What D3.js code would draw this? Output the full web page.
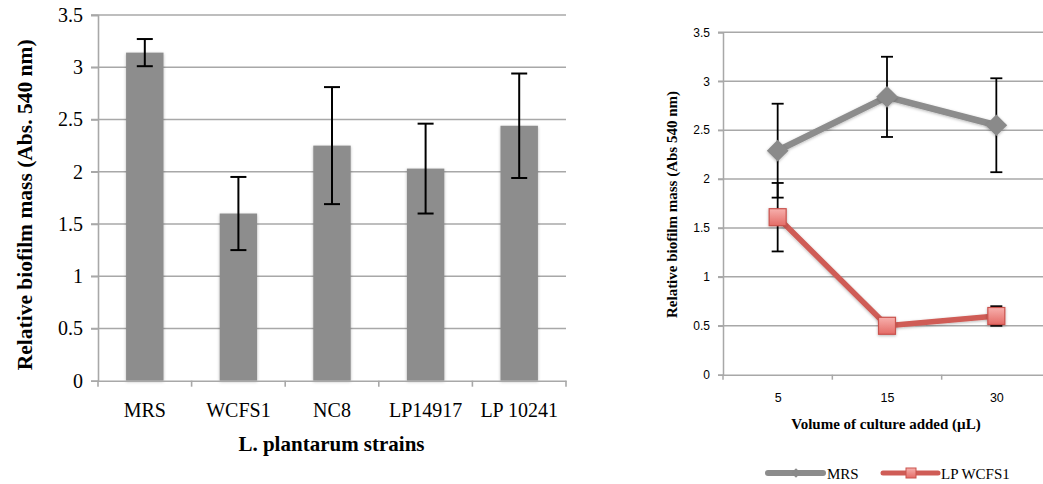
<!DOCTYPE html>
<html>
<head>
<meta charset="utf-8">
<script src="https://cdn.jsdelivr.net/npm/d3@7"></script>
<style>
  html, body { margin: 0; padding: 0; background: #fff; }
  svg { display: block; }
</style>
</head>
<body>
<svg id="chart" width="1043" height="484"></svg>
<script>
// Biofilm mass by strain (bar chart)
const strains = ["MRS", "WCFS1", "NC8", "LP14917", "LP 10241"];
const strainMeans = [3.14, 1.60, 2.25, 2.03, 2.44];
const strainErrors = [0.13, 0.35, 0.56, 0.43, 0.50];

// Biofilm mass by culture volume (line chart)
const volumes = ["5", "15", "30"];
const mrsMeans = [2.29, 2.84, 2.55];
const mrsErrors = [0.48, 0.41, 0.48];
const wcfsMeans = [1.61, 0.50, 0.60];
const wcfsErrors = [0.35, 0.02, 0.10];
const seriesNames = ["MRS", "LP WCFS1"];

const yTicks = [0, 0.5, 1, 1.5, 2, 2.5, 3, 3.5];
const yTickLabels = ["0", "0.5", "1", "1.5", "2", "2.5", "3", "3.5"];

const svg = d3.select("#chart");
const serif = "'Liberation Serif', 'Times New Roman', serif";
const sans = "'Liberation Sans', Arial, sans-serif";
const gridColor = "#a8a8a8";

const defs = svg.append("defs");
defs.append("filter").attr("id", "soft").attr("x", "-30%").attr("y", "-30%")
  .attr("width", "160%").attr("height", "160%")
  .append("feDropShadow").attr("dx", 0).attr("dy", 1).attr("stdDeviation", 1.6)
  .attr("flood-color", "#000").attr("flood-opacity", 0.28);
const grad = defs.append("linearGradient").attr("id", "sqFill")
  .attr("x1", 0).attr("y1", 0).attr("x2", 0).attr("y2", 1);
grad.append("stop").attr("offset", "0%").attr("stop-color", "#f7b0ad");
grad.append("stop").attr("offset", "100%").attr("stop-color", "#e46b66");

// ---------- Left panel: bars ----------
{
  const L = { left: 98, right: 566, top: 15, bottom: 380.7 };
  const x = d3.scaleBand().domain(strains).range([L.left, L.right]).paddingInner(0.6).paddingOuter(0.3);
  const xb = d3.scaleBand().domain(strains).range([L.left, L.right]);
  const y = d3.scaleLinear().domain([0, 3.5]).range([L.bottom, L.top]);
  const g = svg.append("g");

  // horizontal gridlines
  g.append("g").selectAll("line").data(yTicks.filter(d => d > 0)).join("line")
    .attr("x1", L.left - 7).attr("x2", L.right)
    .attr("y1", d => y(d)).attr("y2", d => y(d))
    .attr("stroke", gridColor).attr("stroke-width", 1.6);

  // y axis
  const yAxis = d3.axisLeft(y).tickValues(yTicks).tickSize(7).tickPadding(8)
    .tickFormat((d, i) => yTickLabels[i]);
  const ya = g.append("g").attr("transform", `translate(${L.left},0)`).call(yAxis);
  ya.select(".domain").attr("stroke", gridColor).attr("stroke-width", 1.6);
  ya.selectAll(".tick line").attr("stroke", gridColor).attr("stroke-width", 1.6);
  ya.selectAll(".tick text").attr("font-family", serif).attr("font-size", 20).attr("fill", "#000");

  // bars
  g.append("g").selectAll("rect").data(strains).join("rect")
    .attr("x", d => x(d)).attr("width", x.bandwidth())
    .attr("y", (d, i) => y(strainMeans[i]))
    .attr("height", (d, i) => y(0) - y(strainMeans[i]))
    .attr("fill", "#8d8d8d").attr("filter", "url(#soft)");

  // x axis
  const xAxis = d3.axisBottom(xb).tickSize(0).tickPadding(22);
  const xa = g.append("g").attr("transform", `translate(0,${L.bottom})`).call(xAxis);
  xa.select(".domain").attr("stroke", gridColor).attr("stroke-width", 1.6);
  xa.selectAll(".tick text").attr("font-family", serif).attr("font-size", 20).attr("fill", "#000");
  // category boundary tick marks
  g.append("g").selectAll("line").data(d3.range(strains.length + 1)).join("line")
    .attr("x1", i => L.left + i * xb.step()).attr("x2", i => L.left + i * xb.step())
    .attr("y1", L.bottom).attr("y2", L.bottom + 6)
    .attr("stroke", gridColor).attr("stroke-width", 1.6);

  // error bars
  const eb = g.append("g").attr("stroke", "#000").attr("stroke-width", 2);
  strains.forEach((s, i) => {
    const cx = x(s) + x.bandwidth() / 2;
    const hi = y(strainMeans[i] + strainErrors[i]);
    const lo = y(strainMeans[i] - strainErrors[i]);
    eb.append("line").attr("x1", cx).attr("x2", cx).attr("y1", hi).attr("y2", lo);
    eb.append("line").attr("x1", cx - 8).attr("x2", cx + 8).attr("y1", hi).attr("y2", hi);
    eb.append("line").attr("x1", cx - 8).attr("x2", cx + 8).attr("y1", lo).attr("y2", lo);
  });

  // titles
  g.append("text").attr("x", (L.left + L.right) / 2 - 0.5).attr("y", 451)
    .attr("text-anchor", "middle").attr("font-family", serif).attr("font-weight", "bold")
    .attr("font-size", 21).text("L. plantarum strains");
  g.append("text").attr("transform", `translate(32,${(L.top + L.bottom) / 2 + 7}) rotate(-90)`)
    .attr("text-anchor", "middle").attr("font-family", serif).attr("font-weight", "bold")
    .attr("font-size", 21.5).text("Relative biofilm mass (Abs. 540 nm)");
}

// ---------- Right panel: lines ----------
{
  const R = { left: 723, right: 1051, top: 32.3, bottom: 374.7 };
  const x = d3.scalePoint().domain(volumes).range([R.left, R.right]).padding(0.5);
  const step = (R.right - R.left) / volumes.length;
  const y = d3.scaleLinear().domain([0, 3.5]).range([R.bottom, R.top]);
  const g = svg.append("g");

  g.append("g").selectAll("line").data(yTicks.filter(d => d > 0)).join("line")
    .attr("x1", R.left - 5).attr("x2", R.right)
    .attr("y1", d => y(d)).attr("y2", d => y(d))
    .attr("stroke", gridColor).attr("stroke-width", 1.5);

  const yAxis = d3.axisLeft(y).tickValues(yTicks).tickSize(5).tickPadding(8)
    .tickFormat((d, i) => yTickLabels[i]);
  const ya = g.append("g").attr("transform", `translate(${R.left},0)`).call(yAxis);
  ya.select(".domain").attr("stroke", gridColor).attr("stroke-width", 1.5);
  ya.selectAll(".tick line").attr("stroke", gridColor).attr("stroke-width", 1.5);
  ya.selectAll(".tick text").attr("font-family", sans).attr("font-size", 12).attr("fill", "#000");

  const xAxis = d3.axisBottom(x).tickSize(0).tickPadding(18);
  const xa = g.append("g").attr("transform", `translate(0,${R.bottom})`).call(xAxis);
  xa.select(".domain").attr("stroke", gridColor).attr("stroke-width", 1.5);
  xa.selectAll(".tick text").attr("font-family", sans).attr("font-size", 12.5).attr("fill", "#000");
  g.append("g").selectAll("line").data(d3.range(volumes.length + 1)).join("line")
    .attr("x1", i => R.left + i * step).attr("x2", i => R.left + i * step)
    .attr("y1", R.bottom).attr("y2", R.bottom + 5)
    .attr("stroke", gridColor).attr("stroke-width", 1.5);

  // error bars (under the lines and markers)
  const eb = g.append("g").attr("stroke", "#000").attr("stroke-width", 1.8);
  [[mrsMeans, mrsErrors], [wcfsMeans, wcfsErrors]].forEach(([m, e]) => {
    volumes.forEach((v, i) => {
      const cx = x(v);
      const hi = y(m[i] + e[i]), lo = y(m[i] - e[i]);
      eb.append("line").attr("x1", cx).attr("x2", cx).attr("y1", hi).attr("y2", lo);
      eb.append("line").attr("x1", cx - 6).attr("x2", cx + 6).attr("y1", hi).attr("y2", hi);
      eb.append("line").attr("x1", cx - 6).attr("x2", cx + 6).attr("y1", lo).attr("y2", lo);
    });
  });

  const line = d3.line().x((d, i) => x(volumes[i])).y(d => y(d));
  g.append("path").datum(mrsMeans).attr("d", line).attr("fill", "none")
    .attr("stroke", "#8c8c8c").attr("stroke-width", 6.5).attr("stroke-linejoin", "round")
    .attr("filter", "url(#soft)");
  g.append("path").datum(wcfsMeans).attr("d", line).attr("fill", "none")
    .attr("stroke", "#cf5c56").attr("stroke-width", 5.5).attr("stroke-linejoin", "round")
    .attr("filter", "url(#soft)");

  // markers
  const diamond = d3.symbol().type(d3.symbolDiamond2).size(300);
  g.append("g").selectAll("path").data(mrsMeans).join("path")
    .attr("d", diamond).attr("transform", (d, i) => `translate(${x(volumes[i])},${y(d)})`)
    .attr("fill", "#8a8a8a").attr("filter", "url(#soft)");
  g.append("g").selectAll("rect").data(wcfsMeans).join("rect")
    .attr("x", (d, i) => x(volumes[i]) - 8.5).attr("y", d => y(d) - 8.5)
    .attr("width", 17).attr("height", 17)
    .attr("fill", "url(#sqFill)").attr("stroke", "#c9524d").attr("stroke-width", 1.2)
    .attr("filter", "url(#soft)");

  // titles
  g.append("text").attr("x", 886).attr("y", 429)
    .attr("text-anchor", "middle").attr("font-family", serif).attr("font-weight", "bold")
    .attr("font-size", 15).text("Volume of culture added (µL)");
  g.append("text").attr("transform", `translate(677,${(R.top + R.bottom) / 2 + 1}) rotate(-90)`)
    .attr("text-anchor", "middle").attr("font-family", serif).attr("font-weight", "bold")
    .attr("font-size", 15).text("Relative biofilm mass (Abs 540 nm)");

  // legend
  const lg = g.append("g");
  const items = [
    { name: seriesNames[0], x0: 768, color: "#8c8c8c", w: 6, marker: "diamond", tx: 827 },
    { name: seriesNames[1], x0: 883, color: "#cf5c56", w: 5, marker: "square", tx: 941 }
  ];
  items.forEach(it => {
    const ly = 473;
    lg.append("line").attr("x1", it.x0).attr("x2", it.x0 + 55).attr("y1", ly).attr("y2", ly)
      .attr("stroke", it.color).attr("stroke-width", it.w).attr("stroke-linecap", "round");
    if (it.marker === "diamond") {
      lg.append("path").attr("d", d3.symbol().type(d3.symbolDiamond2).size(60))
        .attr("transform", `translate(${it.x0 + 28},${ly})`).attr("fill", "#8a8a8a");
    } else {
      lg.append("rect").attr("x", it.x0 + 23).attr("y", ly - 5).attr("width", 10).attr("height", 10)
        .attr("fill", "url(#sqFill)").attr("stroke", "#c9524d").attr("stroke-width", 1);
    }
    lg.append("text").attr("x", it.tx).attr("y", ly + 5.5)
      .attr("font-family", serif).attr("font-size", 15).text(it.name);
  });
}
</script>
</body>
</html>
